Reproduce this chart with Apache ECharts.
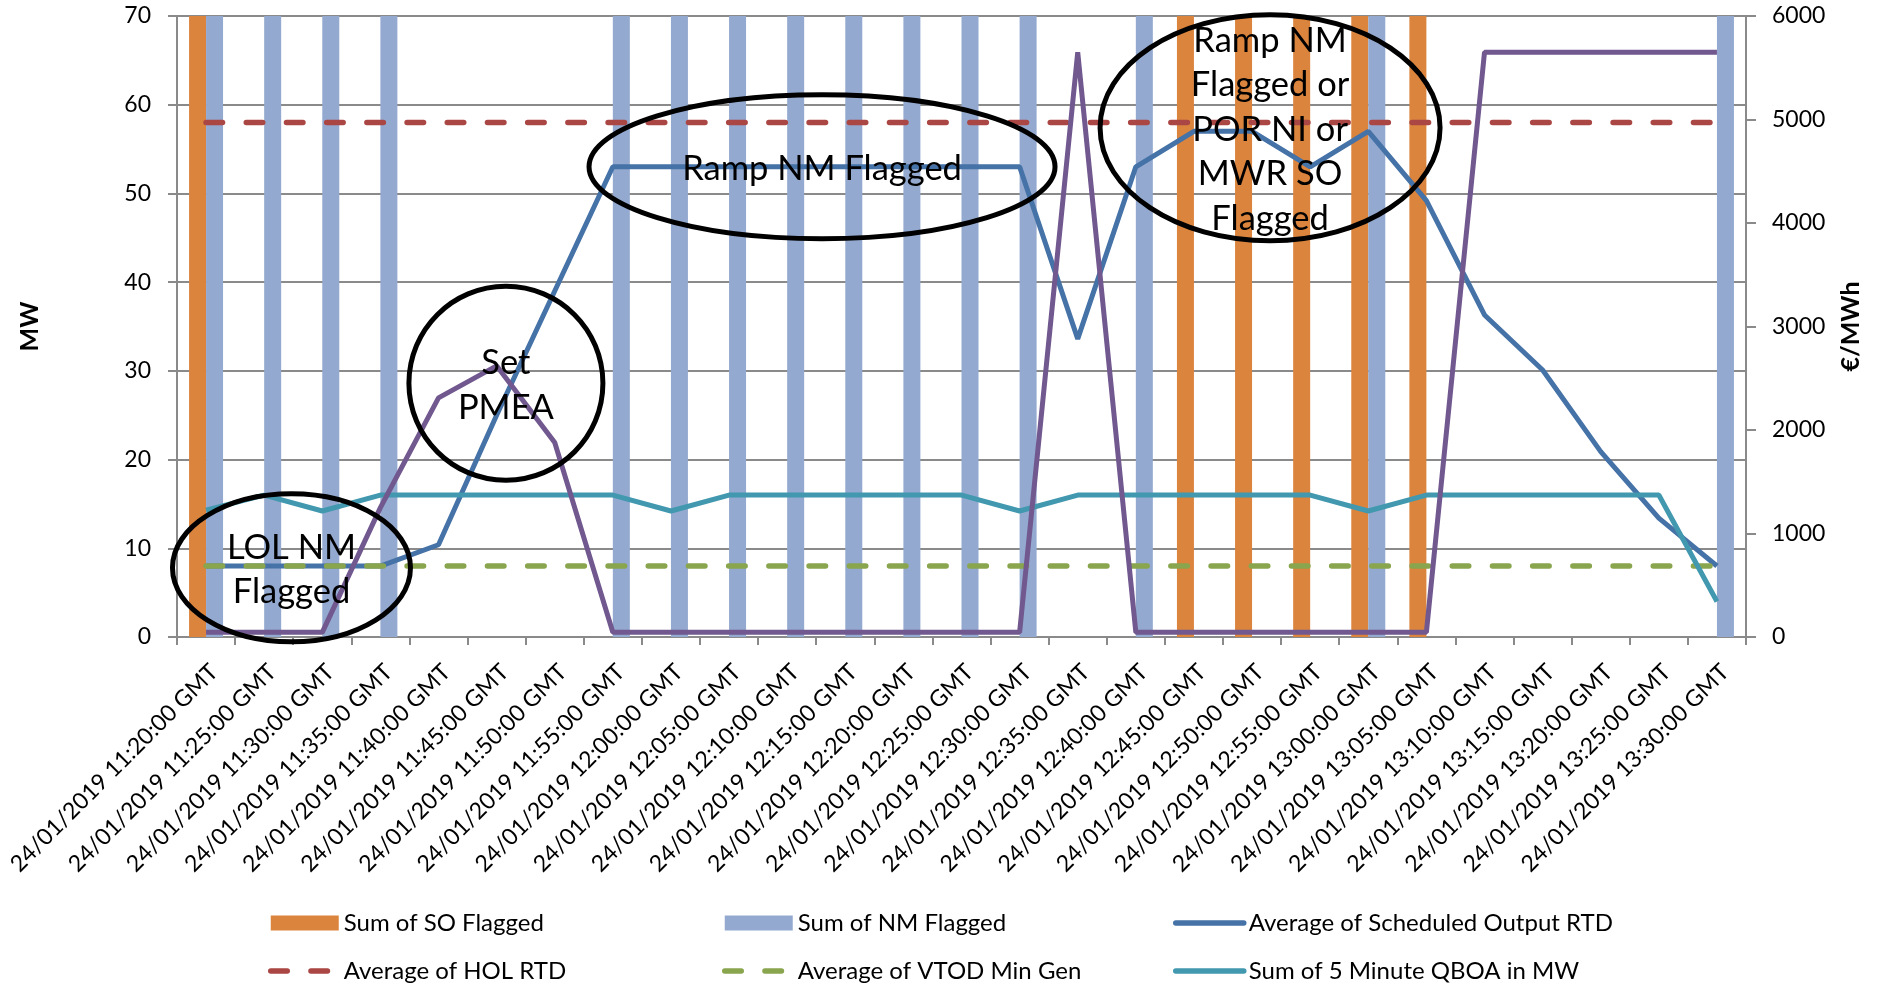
<!DOCTYPE html>
<html>
<head>
<meta charset="utf-8">
<script src="https://cdn.jsdelivr.net/npm/echarts@6/dist/echarts.min.js"></script>
<style>
  html, body { margin: 0; padding: 0; background: #fff; }
  #chart { width: 1877px; height: 983px; }
</style>
</head>
<body>
<div id="chart"></div>
<script>
// 5-minute settlement intervals
const categories = [
  '24/01/2019 11:20:00 GMT', '24/01/2019 11:25:00 GMT', '24/01/2019 11:30:00 GMT',
  '24/01/2019 11:35:00 GMT', '24/01/2019 11:40:00 GMT', '24/01/2019 11:45:00 GMT',
  '24/01/2019 11:50:00 GMT', '24/01/2019 11:55:00 GMT', '24/01/2019 12:00:00 GMT',
  '24/01/2019 12:05:00 GMT', '24/01/2019 12:10:00 GMT', '24/01/2019 12:15:00 GMT',
  '24/01/2019 12:20:00 GMT', '24/01/2019 12:25:00 GMT', '24/01/2019 12:30:00 GMT',
  '24/01/2019 12:35:00 GMT', '24/01/2019 12:40:00 GMT', '24/01/2019 12:45:00 GMT',
  '24/01/2019 12:50:00 GMT', '24/01/2019 12:55:00 GMT', '24/01/2019 13:00:00 GMT',
  '24/01/2019 13:05:00 GMT', '24/01/2019 13:10:00 GMT', '24/01/2019 13:15:00 GMT',
  '24/01/2019 13:20:00 GMT', '24/01/2019 13:25:00 GMT', '24/01/2019 13:30:00 GMT'
];

// Flag columns (full-height bars where an interval was flagged)
const soFlagged = [70, 0, 0, 0, 0, 0, 0, 0, 0, 0, 0, 0, 0, 0, 0, 0, 0, 70, 70, 70, 70, 70, 0, 0, 0, 0, 0];
const nmFlagged = [70, 70, 70, 70, 0, 0, 0, 70, 70, 70, 70, 70, 70, 70, 70, 0, 70, 0, 0, 0, 70, 0, 0, 0, 0, 0, 70];

// MW series
const scheduledOutputRtd = [8, 8, 8, 8, 10.4, 25, 39, 53, 53, 53, 53, 53, 53, 53, 53, 33.6, 53, 57, 57, 53, 57, 49.2, 36.3, 30.1, 20.9, 13.4, 8];
const holRtd = [58, 58, 58, 58, 58, 58, 58, 58, 58, 58, 58, 58, 58, 58, 58, 58, 58, 58, 58, 58, 58, 58, 58, 58, 58, 58, 58];
const vtodMinGen = [8, 8, 8, 8, 8, 8, 8, 8, 8, 8, 8, 8, 8, 8, 8, 8, 8, 8, 8, 8, 8, 8, 8, 8, 8, 8, 8];
const qboaMw = [14.3, 16, 14.2, 16, 16, 16, 16, 16, 14.2, 16, 16, 16, 16, 16, 14.2, 16, 16, 16, 16, 16, 14.2, 16, 16, 16, 16, 16, 4];

// €/MWh series (secondary axis)
const priceEurMwh = [45, 45, 45, 1250, 2310, 2620, 1880, 45, 45, 45, 45, 45, 45, 45, 45, 5650, 45, 45, 45, 45, 45, 45, 5650, 5650, 5650, 5650, 5650];

// Axis tick settings
const mwAxis = { min: 0, max: 70, interval: 10 };
const priceAxis = { min: 0, max: 6000, interval: 1000 };

// Circled call-outs: centre given as (category position, MW), radii in px
const callouts = [
  { text: 'LOL NM\nFlagged', cat: 1.47, mw: 7.8, rx: 119, ry: 74 },
  { text: 'Set\nPMEA', cat: 5.16, mw: 28.6, rx: 97, ry: 97 },
  { text: 'Ramp NM Flagged', cat: 10.6, mw: 53.0, rx: 233, ry: 72 },
  { text: 'Ramp NM\nFlagged or\nPOR NI or\nMWR SO\nFlagged', cat: 18.31, mw: 57.4, rx: 170, ry: 113 }
];

const FONT = 'Lato, "Open Sans", sans-serif';
const C = {
  so: '#DB843D', nm: '#93A9CF', sched: '#4572A7', hol: '#AA4643',
  vtod: '#89A54E', qboa: '#4198AF', price: '#71588F', grid: '#8A8A8A'
};
const dash = [16.5, 23.7];

const chart = echarts.init(document.getElementById('chart'), null, { renderer: 'canvas' });

const legendText = { fontFamily: FONT, fontSize: 24, color: '#000', lineHeight: 28 };
// line entries show only their stroke, no marker
const noMarker = { color: 'rgba(0,0,0,0)', borderWidth: 0, opacity: 0 };
function legendBlock(left, names) {
  return {
    orient: 'vertical', left: left, top: 909, height: 120, padding: 0,
    itemWidth: 68, itemHeight: 15, itemGap: 20, itemTextGap: 8,
    selectedMode: false, textStyle: legendText,
    lineStyle: { width: 5.5, cap: 'round' },
    data: names
  };
}

const axisFont = { fontFamily: FONT, fontSize: 23, color: '#000' };
const nameFont = { fontFamily: FONT, fontSize: 25, fontWeight: 'bold', color: '#000' };

chart.setOption({
  animation: false,
  backgroundColor: '#fff',
  grid: { left: 177, right: 131, top: 16, bottom: 346, containLabel: false, outerBoundsMode: 'none' },
  legend: [
    legendBlock(268, [
      { name: 'Sum of SO Flagged', icon: 'rect' },
      { name: 'Average of HOL RTD', itemStyle: noMarker }
    ]),
    legendBlock(722, [
      { name: 'Sum of NM Flagged', icon: 'rect' },
      { name: 'Average of VTOD Min Gen', itemStyle: noMarker }
    ]),
    legendBlock(1173, [
      { name: 'Average of Scheduled Output RTD', itemStyle: noMarker },
      { name: 'Sum of 5 Minute QBOA in MW', itemStyle: noMarker }
    ])
  ],
  xAxis: {
    type: 'category',
    data: categories,
    boundaryGap: true,
    axisLine: { lineStyle: { color: C.grid, width: 2 } },
    axisTick: { show: true, length: 8, lineStyle: { color: C.grid, width: 2 } },
    axisLabel: Object.assign({ interval: 0, rotate: 45, margin: 23, verticalAlign: 'top' }, axisFont),
    splitLine: { show: false }
  },
  yAxis: [
    {
      type: 'value', min: mwAxis.min, max: mwAxis.max, interval: mwAxis.interval,
      name: 'MW', nameLocation: 'middle', nameGap: 135, nameRotate: 90,
      nameTextStyle: nameFont,
      axisLine: { show: true, lineStyle: { color: C.grid, width: 2 } },
      axisTick: { show: true, length: 9, lineStyle: { color: C.grid, width: 2 } },
      axisLabel: Object.assign({ margin: 26 }, axisFont),
      splitLine: { show: true, lineStyle: { color: C.grid, width: 2 } }
    },
    {
      type: 'value', min: priceAxis.min, max: priceAxis.max, interval: priceAxis.interval,
      position: 'right',
      name: '€/MWh', nameLocation: 'middle', nameGap: 92, nameRotate: 90,
      nameTextStyle: nameFont,
      axisLine: { show: true, lineStyle: { color: C.grid, width: 2 } },
      axisTick: { show: true, length: 10, lineStyle: { color: C.grid, width: 2 } },
      axisLabel: Object.assign({ margin: 26, formatter: function (v) { return String(v); } }, axisFont),
      splitLine: { show: false }
    }
  ],
  series: [
    {
      name: 'Sum of SO Flagged', type: 'bar', data: soFlagged, yAxisIndex: 0,
      barWidth: 17, barGap: '0%', itemStyle: { color: C.so }
    },
    {
      name: 'Sum of NM Flagged', type: 'bar', data: nmFlagged, yAxisIndex: 0,
      barWidth: 17, barGap: '0%', itemStyle: { color: C.nm }
    },
    {
      name: 'Average of Scheduled Output RTD', type: 'line', data: scheduledOutputRtd,
      symbol: 'none', lineStyle: { color: C.sched, width: 5 }, itemStyle: { color: C.sched }
    },
    {
      name: 'Average of HOL RTD', type: 'line', data: holRtd,
      symbol: 'none', lineStyle: { color: C.hol, width: 5.5, type: dash, cap: 'round' }, itemStyle: { color: C.hol }
    },
    {
      name: 'Average of VTOD Min Gen', type: 'line', data: vtodMinGen,
      symbol: 'none', lineStyle: { color: C.vtod, width: 5.5, type: dash, cap: 'round' }, itemStyle: { color: C.vtod }
    },
    {
      name: 'Sum of 5 Minute QBOA in MW', type: 'line', data: qboaMw,
      symbol: 'none', lineStyle: { color: C.qboa, width: 5 }, itemStyle: { color: C.qboa }
    },
    {
      name: 'Average of Price RTD', type: 'line', data: priceEurMwh, yAxisIndex: 1,
      symbol: 'none', lineStyle: { color: C.price, width: 5 }, itemStyle: { color: C.price }
    }
  ]
});

// Place the call-out ellipses using the chart's own scales
const x0 = chart.convertToPixel({ xAxisIndex: 0 }, 0);
const x1 = chart.convertToPixel({ xAxisIndex: 0 }, 1);
const graphics = [];
callouts.forEach(function (c) {
  const cx = x0 + (x1 - x0) * c.cat;
  const cy = chart.convertToPixel({ yAxisIndex: 0 }, c.mw);
  graphics.push({
    type: 'ellipse', z: 100, silent: true,
    shape: { cx: cx, cy: cy, rx: c.rx, ry: c.ry },
    style: { fill: null, stroke: '#000', lineWidth: 5 }
  });
  graphics.push({
    type: 'text', z: 101, silent: true,
    style: {
      text: c.text, x: cx, y: cy + 2, align: 'center', verticalAlign: 'middle',
      fontFamily: FONT, fontSize: 34.5, lineHeight: 44.5, fill: '#000'
    }
  });
});
chart.setOption({ graphic: graphics });
</script>
</body>
</html>
